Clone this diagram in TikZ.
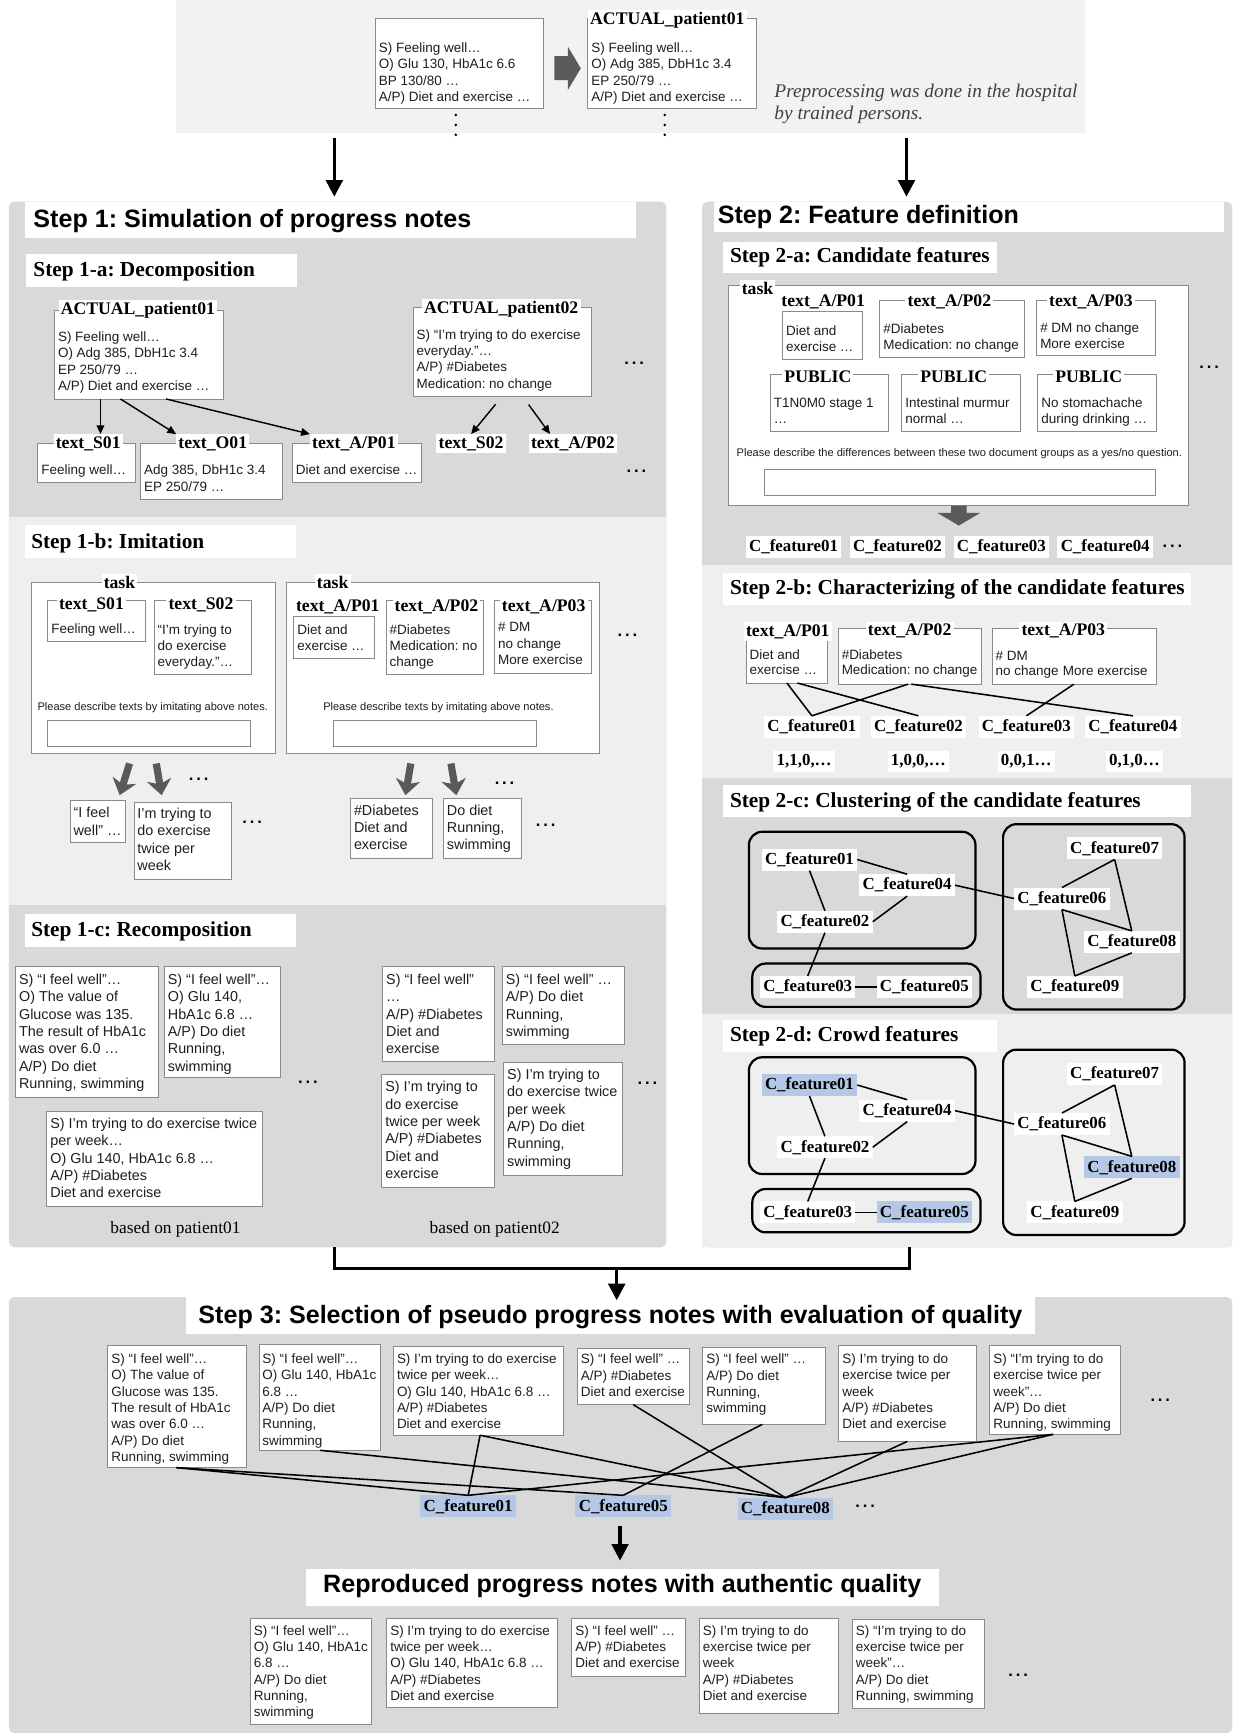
\documentclass[tikz,border=0pt]{standalone}
\usepackage{fontspec}
\setmainfont{Liberation Serif}
\setsansfont{Liberation Sans}
\usetikzlibrary{arrows.meta,calc}
\definecolor{panelgray}{HTML}{D9D9D9}
\definecolor{lightband}{HTML}{EFEFEF}
\definecolor{bannergray}{HTML}{F2F2F2}
\definecolor{boxgray}{HTML}{8A8A8A}
\definecolor{notetext}{HTML}{1E1E1E}
\definecolor{fatgray}{HTML}{5A5A5A}
\definecolor{hlblue}{HTML}{B4C7E7}
\tikzset{
  every node/.style={inner sep=0pt, outer sep=0pt},
  nb/.style={draw=boxgray, fill=white, line width=0.8pt, anchor=north west},
  nt/.style={anchor=north west, align=left, text=notetext, font=\sffamily\fontsize{12.2}{14.8}\selectfont},
  ntl/.style={font=\sffamily\fontsize{13}{15.7}\selectfont},
  nts/.style={font=\sffamily\fontsize{12.2}{14}\selectfont},
  lbl/.style={fill=white, inner sep=2pt, font=\bfseries\fontsize{16}{18}\selectfont},
  feat/.style={fill=white, inner xsep=3pt, inner ysep=3.5pt, font=\bfseries\fontsize{15.3}{17}\selectfont},
  feathl/.style={feat, fill=hlblue},
  hone/.style={anchor=west, font=\sffamily\bfseries\fontsize{22.7}{26}\selectfont},
  htwo/.style={anchor=west, font=\bfseries\fontsize{19.3}{22}\selectfont},
  panel/.style={fill=panelgray, rounded corners=5pt, anchor=north west},
  small/.style={text=notetext, font=\sffamily\fontsize{10}{12}\selectfont},
  dotsty/.style={anchor=base, font=\sffamily\bfseries\fontsize{15}{15}\selectfont},
  bigarrow/.style={line width=3pt, -{Triangle[width=15pt,length=15pt]}},
  smallarrow/.style={line width=1.3pt, -{Triangle[width=7pt,length=8pt]}},
  fatarrow/.style={draw=fatgray, line width=6.5pt, -{Stealth[width=22pt,length=14pt,inset=4pt]}},
  link/.style={line width=1.4pt},
  clus/.style={line width=2pt, rounded corners=12pt},
}
% [style] name x y w h textnorth text
\newcommand\notebox[8][]{%
  \node[nb, minimum width=#5, minimum height=#6] (#2) at (#3,#4) {};
  \node[nt,#1] (#2-t) at (#3+3.2,#7) {#8};
}
\newcommand\mydots[3]{\node[dotsty] (#1) at (#2,#3+1.1) {.\kern2.6pt.\kern2.6pt.};}
\newcommand\clusterset[3]{%
 \draw[clus] (677.6,752.6+#1) rectangle (882.6,858.2+#1);
 \draw[clus] (907.6,745.7+#1) rectangle (1071.8,913.4+#1);
 \draw[clus] (680.7,871.8+#1) rectangle (887.2,911+#1);
 \node[#3] (#2f1) at (732.4,777.7+#1) {C\_feature01};
 \node[feat] (#2f4) at (820.8,800.9+#1) {C\_feature04};
 \node[feat] (#2f2) at (746.4,834+#1) {C\_feature02};
 \node[feat] (#2f6) at (960.8,813+#1) {C\_feature06};
 \node[feat] (#2f7) at (1008.5,767.7+#1) {C\_feature07};
 \node[#3] (#2f8) at (1024,852.2+#1) {C\_feature08};
 \node[feat] (#2f9) at (972.5,893+#1) {C\_feature09};
 \node[feat] (#2f3) at (730.8,893+#1) {C\_feature03};
 \node[#3] (#2f5) at (836.4,893+#1) {C\_feature05};
 \draw[link] (#2f1.east) -- (#2f4.north);
 \draw[link] (#2f1.south) -- (#2f2.north);
 \draw[link] (#2f4.south) -- (#2f2.east);
 \draw[link] (#2f4.east) -- (#2f6.west);
 \draw[link] (#2f6.north) -- (#2f7.south);
 \draw[link] (#2f7.south) -- (#2f8.north);
 \draw[link] (#2f6.south) -- (#2f8.north);
 \draw[link] (#2f6.south) -- (#2f9.north);
 \draw[link] (#2f9.north) -- (#2f8.south);
 \draw[link] (#2f2.south) -- (#2f3.north);
 \draw[link] (#2f3.east) -- (#2f5.west);
}
\begin{document}
\frenchspacing
\begin{tikzpicture}[x=1pt,y=-1pt]
\useasboundingbox (0,0) rectangle (1115,1568);

% ---------- top banner
\node[fill=bannergray, minimum width=823pt, minimum height=120.7pt, anchor=north west] (banner) at (159,0) {};
\notebox{orig}{339.6}{16.6}{152.4}{81.4}{38.5}{S) Feeling well…\\O) Glu 130, HbA1c 6.6\\BP 130/80 …\\A/P) Diet and exercise …}
\fill[fatgray] (501.6,50.7) -- (513.8,50.7) -- (513.8,42.2) -- (525.5,61.8) -- (513.8,81.4) -- (513.8,72.4) -- (501.6,72.4) -- cycle;
\notebox{anon}{531.9}{16.6}{152.9}{81.4}{38.5}{S) Feeling well…\\O) Adg 385, DbH1c 3.4\\EP 250/79 …\\A/P) Diet and exercise …}
\node[lbl] (anonl) at (603.8,18) {ACTUAL\_patient01};
\foreach \yy in {104,113,122} {\fill (412.4,\yy) circle (1.3pt); \fill (601.5,\yy) circle (1.3pt);}
\node[anchor=west, align=left, text=black!75, font=\itshape\fontsize{17.5}{20.3}\selectfont] (pre) at (700.7,94) {Preprocessing was done in the hospital\\by trained persons.};

% ---------- panels
\node[panel, minimum width=595pt, minimum height=946pt] (s1) at (8,182.5) {};
\node[panel, minimum width=479.7pt, minimum height=946pt] (s2) at (635.3,182.5) {};
\node[panel, minimum width=1107pt, minimum height=394.5pt] (s3) at (8,1173.5) {};
\fill[lightband] (8,467.6) rectangle (603,819);
\fill[lightband] (635.3,511) rectangle (1115,704);
\fill[lightband] (635.3,917) rectangle (1115,1128.5);

\coordinate (a1) at (302.5,125.2);
\coordinate (a2) at (820.2,125.2);
\draw[bigarrow, shorten >=4.5pt] (a1) -- (s1.north -| a1);
\draw[bigarrow, shorten >=4.5pt] (a2) -- (s2.north -| a2);

% ---------- Step 1
\fill[white] (22.2,182.5) rectangle (575.7,215.7);
\node[hone] (t1) at (30.3,199.7) {Step 1: Simulation of progress notes};

% 1-a
\fill[white] (23.4,229.9) rectangle (268.7,259.4);
\node[htwo] (t1a) at (30.3,245.4) {Step 1-a: Decomposition};
\notebox{p01}{49.3}{280.5}{152.7}{80.5}{300.1}{S) Feeling well…\\O) Adg 385, DbH1c 3.4\\EP 250/79 …\\A/P) Diet and exercise …}
\node[lbl] (p01l) at (124.8,280.5) {ACTUAL\_patient01};
\notebox{p02}{373.7}{278}{161.6}{80.4}{298}{S) “I'm trying to do exercise\\everyday.”…\\A/P) \#Diabetes\\Medication: no change}
\node[lbl] (p02l) at (453.5,279.6) {ACTUAL\_patient02};
\notebox{s01}{34.3}{401.2}{88.1}{35.6}{420.8}{Feeling well…}
\node[lbl] (s01l) at (79.8,401.2) {text\_S01};
\notebox{o01}{127.3}{401.2}{128}{50.4}{420.8}{Adg 385, DbH1c 3.4\\EP 250/79 …}
\node[lbl] (o01l) at (192.5,401.2) {text\_O01};
\notebox{ap01}{264.6}{401.2}{116.4}{35.3}{420.8}{Diet and exercise …}
\node[lbl] (ap01l) at (320.2,401.2) {text\_A/P01};
\node[lbl] (s02l) at (426.2,401.2) {text\_S02};
\node[lbl] (ap02l) at (518.3,401.2) {text\_A/P02};
\draw[smallarrow] (p01.south -| 90.9,0) -- (s01l.north -| 90.9,0);
\draw[smallarrow] (p01.south -| 109,0) -- (o01l.north west);
\draw[smallarrow] (p01.south -| 150.3,0) -- (ap01l.north west);
\draw[smallarrow, shorten <=9.5pt] (p02.south -| 454.5,0) -- (s02l.north);
\draw[smallarrow, shorten <=9.5pt] (p02.south -| 472.7,0) -- (ap02l.north -| 497.7,0);
\mydots{d1a}{573.7}{328.8}
\mydots{d1b}{575.9}{426}

% 1-b
\fill[white] (22.2,475) rectangle (267.5,505.3);
\node[htwo] (t1b) at (28.3,491.7) {Step 1-b: Imitation};
\node[nb, minimum width=221pt, minimum height=154.4pt] (task1) at (28.3,527.3) {};
\node[lbl] (task1l) at (108.1,527.3) {task};
\notebox{ts01}{43.2}{543}{88.1}{37}{564}{Feeling well…}
\node[lbl] (ts01l) at (82.8,547.5) {text\_S01};
\notebox{ts02}{139.4}{543}{88}{67.2}{564.9}{“I'm trying to\\do exercise\\everyday.”…}
\node[lbl] (ts02l) at (181.8,547.5) {text\_S02};
\node[small] (pd1) at (138.2,640) {Please describe texts by imitating above notes.};
\node[nb, minimum width=183.8pt, minimum height=22.9pt] (in1) at (43.2,652.2) {};
\node[nb, minimum width=283.1pt, minimum height=154.7pt] (task2) at (259.4,527.3) {};
\node[lbl] (task2l) at (301,527.3) {task};
\notebox{tap01}{265.8}{557.5}{72.7}{38.3}{564.9}{Diet and\\exercise …}
\node[lbl] (tap01l) at (305.6,549) {text\_A/P01};
\notebox{tap02}{349.4}{543}{88.1}{67}{564.9}{\#Diabetes\\Medication: no\\change}
\node[lbl] (tap02l) at (394.9,549) {text\_A/P02};
\notebox{tap03}{447.6}{543}{87.7}{66.4}{563.4}{\# DM\\no change\\More exercise}
\node[lbl] (tap03l) at (491.9,549) {text\_A/P03};
\node[small] (pd2) at (396.7,640) {Please describe texts by imitating above notes.};
\node[nb, minimum width=183.8pt, minimum height=22.9pt] (in2) at (301.8,652.2) {};
\mydots{d1c}{567.6}{574.7}
\coordinate (fa1s) at (117.2,690.8); \coordinate (fa1e) at (108.3,719.5);
\coordinate (fa2s) at (141.4,690.8); \coordinate (fa2e) at (146.2,719.5);
\coordinate (fa3s) at (371.7,690.8); \coordinate (fa3e) at (366.8,719.5);
\coordinate (fa4s) at (408,690.8);   \coordinate (fa4e) at (412.9,719.5);
\draw[fatarrow] (fa1s) -- (fa1e);
\draw[fatarrow] (fa2s) -- (fa2e);
\draw[fatarrow] (fa3s) -- (fa3e);
\draw[fatarrow] (fa4s) -- (fa4e);
\mydots{d1d}{179.8}{705.3}
\mydots{d1e}{456.5}{708.9}
\notebox[ntl]{im1}{63.4}{724.6}{50.5}{37.7}{730.4}{“I feel\\well” …}
\notebox[ntl]{im2}{121.2}{726}{88.1}{69.5}{731.1}{I'm trying to\\do exercise\\twice per\\week}
\notebox[ntl]{im3}{317.1}{722.5}{74}{54.3}{728}{\#Diabetes\\Diet and\\exercise}
\notebox[ntl]{im4}{401.2}{722.5}{70.7}{54.3}{728}{Do diet\\Running,\\swimming}
\mydots{d1f}{228.2}{743.6}
\mydots{d1g}{493.7}{746.6}

% 1-c
\fill[white] (22.2,827.1) rectangle (267.8,856.7);
\node[htwo] (t1c) at (28.3,843.1) {Step 1-c: Recomposition};
\notebox[ntl]{b1}{14.1}{874.8}{129.3}{117.7}{881.3}{S) “I feel well”…\\O) The value of\\Glucose was 135.\\The result of HbA1c\\was over 6.0 …\\A/P) Do diet\\Running, swimming}
\notebox[ntl]{b2}{148.7}{874.8}{104.6}{99.7}{881.3}{S) “I feel well”…\\O) Glu 140,\\HbA1c 6.8 …\\A/P) Do diet\\Running,\\swimming}
\notebox[ntl]{b3}{42.4}{1005.4}{194.7}{86}{1011.6}{S) I'm trying to do exercise twice\\per week…\\O) Glu 140, HbA1c 6.8 …\\A/P) \#Diabetes\\Diet and exercise}
\notebox[ntl]{c1}{346.2}{874.8}{101.4}{86}{881.3}{S) “I feel well”\\…\\A/P) \#Diabetes\\Diet and\\exercise}
\notebox[ntl]{c2}{454.5}{874.8}{110.2}{69.9}{881.3}{S) “I feel well” …\\A/P) Do diet\\Running,\\swimming}
\notebox[ntl]{c3}{345.4}{972}{101.8}{102.5}{978.4}{S) I'm trying to\\do exercise\\twice per week\\A/P) \#Diabetes\\Diet and\\exercise}
\notebox[ntl]{c4}{455.7}{961.4}{107.9}{101.9}{967.3}{S) I'm trying to\\do exercise twice\\per week\\A/P) Do diet\\Running,\\swimming}
\mydots{d1h}{278.7}{978.9}
\mydots{d1i}{585.8}{980.4}
\node[font=\fontsize{15.7}{18}\selectfont] (bp1) at (158.8,1112.5) {based on patient01};
\node[font=\fontsize{15.7}{18}\selectfont] (bp2) at (447.6,1112.5) {based on patient02};

% ---------- Step 2
\fill[white] (646.3,182.5) rectangle (1107.7,209.7);
\node[hone] (t2) at (649.5,196.1) {Step 2: Feature definition};
% 2-a
\fill[white] (654,219.3) rectangle (902,247);
\node[htwo] (t2a) at (660.5,233) {Step 2-a: Candidate features};
\node[nb, minimum width=416pt, minimum height=199pt] (task3) at (659,258) {};
\node[lbl] (task3l) at (685.4,261) {task};
\notebox{ca1}{708}{282}{72}{43}{294.4}{Diet and\\exercise …}
\node[lbl] (ca1l) at (744.8,273) {text\_A/P01};
\notebox{ca2}{796}{271.5}{131}{51.5}{292.8}{\#Diabetes\\Medication: no change}
\node[lbl] (ca2l) at (859,273) {text\_A/P02};
\notebox{ca3}{938}{271.5}{107}{50}{291.8}{\# DM no change\\More exercise}
\node[lbl] (ca3l) at (987,273) {text\_A/P03};
\notebox{pu1}{697}{338.8}{107}{51.2}{359.8}{T1N0M0 stage 1\\…}
\node[lbl] (pu1l) at (740,341) {PUBLIC};
\notebox{pu2}{816}{338.8}{107}{51.2}{359.8}{Intestinal murmur\\normal …}
\node[lbl] (pu2l) at (863,341) {PUBLIC};
\notebox{pu3}{939}{338.8}{107}{51.2}{359.8}{No stomachache\\during drinking …}
\node[lbl] (pu3l) at (985,341) {PUBLIC};
\node[small] (pd3) at (868,410) {Please describe the differences between these two document groups as a yes/no question.};
\node[nb, minimum width=353.8pt, minimum height=23pt] (in3) at (691.7,425) {};
\mydots{d2a}{1094}{332}
\fill[fatgray] (860.5,457.5) -- (874.5,457.5) -- (874.5,464) -- (887,464) -- (867.5,475.5) -- (848,464) -- (860.5,464) -- cycle;
\node[feat] (a1f) at (718,494.7) {C\_feature01};
\node[feat] (a2f) at (812,494.7) {C\_feature02};
\node[feat] (a3f) at (906,494.7) {C\_feature03};
\node[feat] (a4f) at (1000,494.7) {C\_feature04};
\mydots{d2b}{1060.8}{494.7}

% 2-b
\fill[white] (654,518) rectangle (1078,547.5);
\node[htwo] (t2b) at (660.5,533.5) {Step 2-b: Characterizing of the candidate features};
\notebox[nts]{cb1}{675}{579}{74}{39}{587.6}{Diet and\\exercise …}
\node[lbl] (cb1l) at (712.8,571.6) {text\_A/P01};
\notebox[nts]{cb2}{758.4}{568.5}{129.6}{50.5}{587.6}{\#Diabetes\\Medication: no change}
\node[lbl] (cb2l) at (823,571) {text\_A/P02};
\notebox[nts]{cb3}{897.6}{568.5}{148.4}{50.5}{588.8}{\# DM\\no change\hspace{4pt}More exercise}
\node[lbl] (cb3l) at (962,571) {text\_A/P03};
\node[feat] (b1f) at (734.6,657.6) {C\_feature01};
\node[feat] (b2f) at (831,657.6) {C\_feature02};
\node[feat] (b3f) at (928.7,657.6) {C\_feature03};
\node[feat] (b4f) at (1025,657.6) {C\_feature04};
\draw[link] (cb1.south -| 712,0) -- (b1f.north);
\draw[link] (cb2.south -| 821.6,0) -- (b1f.north);
\draw[link] (cb1.south -| 721.5,0) -- (b2f.north);
\draw[link] (cb2.south -| 824.6,0) -- (b4f.north);
\draw[link] (cb3.south -| 971.7,0) -- (b3f.north);
\node[feat] (v1) at (727.6,689) {1,1,0,…};
\node[feat] (v2) at (830.9,689) {1,0,0,…};
\node[feat] (v3) at (928.5,689) {0,0,1…};
\node[feat] (v4) at (1026.4,689) {0,1,0…};

% 2-c
\fill[white] (654,710.5) rectangle (1078,739.5);
\node[htwo] (t2c) at (660.5,725.5) {Step 2-c: Clustering of the candidate features};
\clusterset{0}{c}{feat}

% 2-d
\fill[white] (654,923) rectangle (902,951.8);
\node[htwo] (t2d) at (660.5,938) {Step 2-d: Crowd features};
\clusterset{204}{d}{feathl}

% ---------- merge into step 3
\coordinate (m1) at (302.5,1147.8);
\coordinate (m2) at (822.9,1147.8);
\coordinate (mj) at (558,1147.8);
\draw[line width=3.2pt] (s1.south -| m1) -- (m1) -- (m2) -- (s2.south -| m2);

% ---------- Step 3
\node[fill=white, minimum width=768.5pt, minimum height=33.5pt, anchor=north west] (t3box) at (168,1173.5) {};
\node[font=\sffamily\bfseries\fontsize{22.7}{26}\selectfont] (t3) at (552.3,1191.5) {Step 3: Selection of pseudo progress notes with evaluation of quality};
\draw[bigarrow, shorten >=-3pt] (mj) -- (t3box.north -| mj);
\notebox{e1}{97.6}{1217.2}{125.4}{110.7}{1224.8}{S) “I feel well”…\\O) The value of\\Glucose was 135.\\The result of HbA1c\\was over 6.0 …\\A/P) Do diet\\Running, swimming}
\notebox{e2}{234.3}{1216.3}{109.9}{95.9}{1224.8}{S) “I feel well”…\\O) Glu 140, HbA1c\\6.8 …\\A/P) Do diet\\Running,\\swimming}
\notebox{e3}{356}{1218}{153.6}{80.6}{1224.8}{S) I'm trying to do exercise\\twice per week…\\O) Glu 140, HbA1c 6.8 …\\A/P) \#Diabetes\\Diet and exercise}
\notebox{e4}{522.3}{1220}{101.6}{50.9}{1225}{S) “I feel well” …\\A/P) \#Diabetes\\Diet and exercise}
\notebox{e5}{636}{1219.3}{110.5}{69.4}{1225}{S) “I feel well” …\\A/P) Do diet\\Running,\\swimming}
\notebox{e6}{759}{1217.2}{124.8}{86.9}{1224.8}{S) I'm trying to do\\exercise twice per\\week\\A/P) \#Diabetes\\Diet and exercise}
\notebox{e7}{895.5}{1217.2}{118.6}{80.6}{1224.8}{S) “I'm trying to do\\exercise twice per\\week”…\\A/P) Do diet\\Running, swimming}
\mydots{d3a}{1049.8}{1267}
\node[feathl] (s3f1) at (423.6,1362.9) {C\_feature01};
\node[feathl] (s3f5) at (563.9,1362.9) {C\_feature05};
\node[feathl] (s3f8) at (710.6,1365) {C\_feature08};
\mydots{d3b}{782.8}{1363}
\foreach \b/\x/\f in {e1/159.6/s3f1, e1/159.6/s3f5, e2/289.4/s3f8, e3/434.4/s3f1, e3/434.4/s3f8, e4/572.9/s3f8, e5/689.8/s3f5, e6/821/s3f8, e7/952.8/s3f8, e7/952.8/s3f1}
  \draw[link] (\b.south -| \x,0) -- (\f.north);

% ---------- reproduced
\coordinate (r1) at (561,1381);
\node[fill=white, minimum width=573.3pt, minimum height=33.4pt, anchor=north west] (t4box) at (276.5,1420) {};
\node[font=\sffamily\bfseries\fontsize{22.7}{26}\selectfont] (t4) at (563,1435) {Reproduced progress notes with authentic quality};
\draw[bigarrow, shorten >=8pt] (r1) -- (t4box.north -| r1);
\notebox{f1}{226.6}{1464.6}{109.4}{95.6}{1470.5}{S) “I feel well”…\\O) Glu 140, HbA1c\\6.8 …\\A/P) Do diet\\Running,\\swimming}
\notebox{f2}{349.9}{1464.6}{154.5}{80.6}{1470.5}{S) I'm trying to do exercise\\twice per week…\\O) Glu 140, HbA1c 6.8 …\\A/P) \#Diabetes\\Diet and exercise}
\notebox{f3}{517.4}{1464.6}{102.4}{51.9}{1470.5}{S) “I feel well” …\\A/P) \#Diabetes\\Diet and exercise}
\notebox{f4}{632.8}{1464.6}{125.6}{85.4}{1470.5}{S) I'm trying to do\\exercise twice per\\week\\A/P) \#Diabetes\\Diet and exercise}
\notebox{f5}{771.2}{1465}{119.1}{81}{1470.5}{S) “I'm trying to do\\exercise twice per\\week”…\\A/P) Do diet\\Running, swimming}
\mydots{d4a}{921.3}{1515.8}
\end{tikzpicture}
\end{document}
